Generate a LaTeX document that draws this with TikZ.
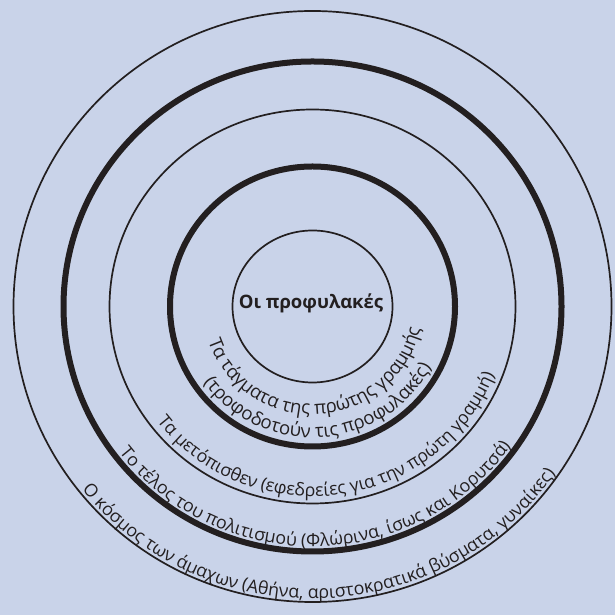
\documentclass[tikz,border=0pt]{standalone}
\usepackage{fontspec}
\setmainfont{Open Sans}
\usetikzlibrary{decorations.text}
\definecolor{ringbg}{RGB}{201,211,233}
\definecolor{ringink}{RGB}{35,31,32}
\newcommand{\arcfont}{\fontsize{17.8}{20}\selectfont}
\newcommand{\innerarcfont}{\fontsize{18.6}{21}\selectfont}

\begin{document}
\begin{tikzpicture}[
    x=1pt, y=1pt,
    ring/.style={draw=ringink, line width=1.7pt},
    heavyring/.style={draw=ringink, line width=6pt},
    arctext/.style={decorate, decoration={text along path, text align=center, text color=ringink, text={|\arcfont|#1}}},
    innerarctext/.style={decorate, decoration={text along path, text align=center, text color=ringink, text={|\innerarcfont|#1}}}
  ]
    \fill[ringbg] (0,0) rectangle (615,615);
    \useasboundingbox (0,0) rectangle (615,615);
    \coordinate (c) at (312.5,308.5);

    % rings, inside out
    \draw[ring] (c) ellipse[x radius=80, y radius=76];
    \draw[heavyring] (c) ellipse[x radius=142.5, y radius=140];
    \draw[ring] (c) ellipse[x radius=203, y radius=197];
    \draw[heavyring] (c) ellipse[x radius=249, y radius=245];
    \draw[ring] (c) ellipse[x radius=299, y radius=295.5];

    \node[font=\fontsize{18.5}{21}\selectfont\bfseries, text=ringink] (front) at (311,312) {Οι προφυλακές};

    % labels along the rings
    \path[innerarctext={Τα τάγματα της πρώτης γραμμής}]
      ([shift={(183.5:110 and 108)}]c) arc[start angle=183.5, end angle=363.5, x radius=110, y radius=108];
    \path[innerarctext={(τροφοδοτούν τις προφυλακές)}]
      ([shift={(184:134 and 131)}]c) arc[start angle=184, end angle=364, x radius=134, y radius=131];
    \path[arctext={Τα μετόπισθεν (εφεδρείες για την πρώτη γραμμή)}]
      ([shift={(188:195 and 190)}]c) arc[start angle=188, end angle=368, x radius=195, y radius=190];
    \path[arctext={Το τέλος του πολιτισμού (Φλώρινα, ίσως και Κορυτσά)}]
      ([shift={(181:244 and 240)}]c) arc[start angle=181, end angle=361, x radius=244, y radius=240];
    \path[arctext={Ο κόσμος των άμαχων (Αθήνα, αριστοκρατικά βύσματα, γυναίκες)}]
      ([shift={(182:296 and 292)}]c) arc[start angle=182, end angle=362, x radius=296, y radius=292];
  \end{tikzpicture}
\end{document}
